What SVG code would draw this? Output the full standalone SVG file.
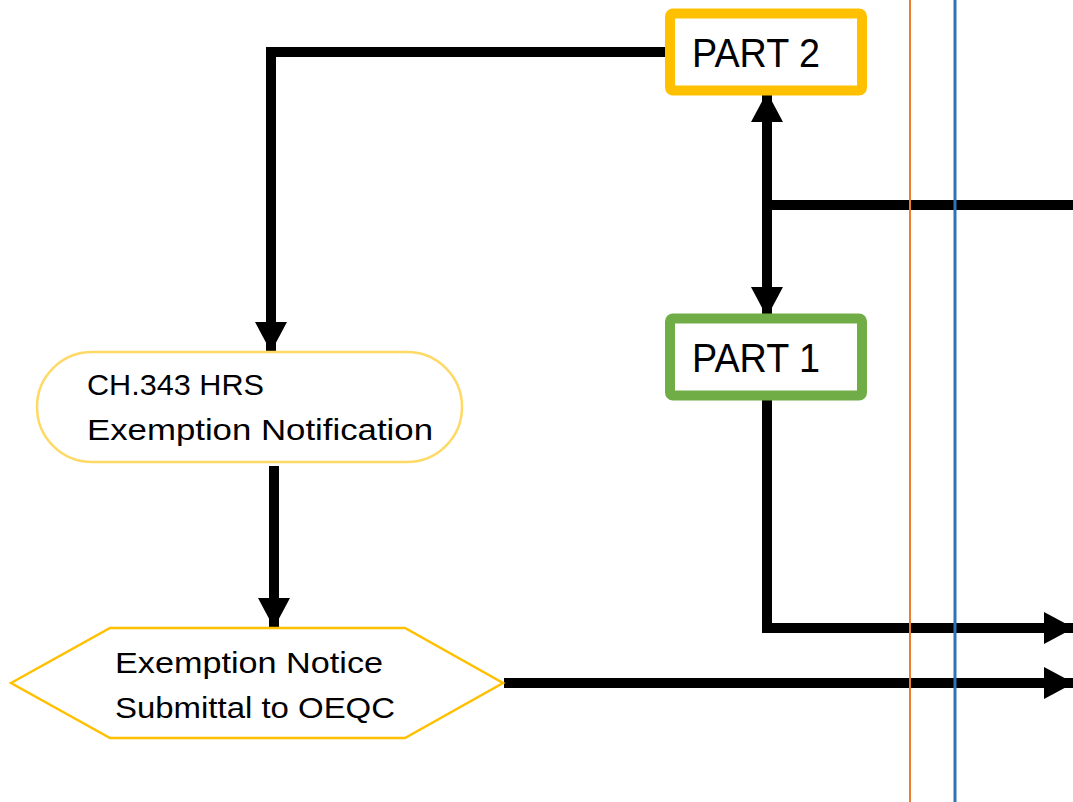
<svg xmlns="http://www.w3.org/2000/svg" width="1073" height="802" viewBox="0 0 1073 802">
<style>
.lbl{font-family:"Liberation Sans",Arial,sans-serif;fill:#000}
.big{font-size:40px}
.mid{font-size:30px}
.conn{fill:none;stroke:#000;stroke-width:10;stroke-linejoin:miter;stroke-linecap:butt}
</style>
<defs>
<marker id="ah" markerUnits="userSpaceOnUse" markerWidth="30" markerHeight="32" refX="29" refY="16" orient="auto" overflow="visible">
<path d="M0,0 L30,16 L0,32 z" fill="#000"/>
</marker>
</defs>
<rect width="1073" height="802" fill="#fff"/>
<g id="connectors">
<polyline class="conn" points="668,52 271,52 271,351" marker-end="url(#ah)"/>
<line class="conn" x1="274" y1="466" x2="274" y2="627" marker-end="url(#ah)"/>
<line class="conn" x1="504" y1="683" x2="1073" y2="683" marker-end="url(#ah)"/>
<polyline class="conn" points="767,396 767,628 1073,628" marker-end="url(#ah)"/>
<line class="conn" x1="767" y1="205" x2="1073" y2="205"/>
<line class="conn" x1="767" y1="205" x2="767" y2="93" marker-end="url(#ah)"/>
<line class="conn" x1="767" y1="205" x2="767" y2="316" marker-end="url(#ah)"/>
</g>
<g id="part2">
<rect x="670" y="13.5" width="192" height="77" rx="3" fill="#fff" stroke="#FFC000" stroke-width="10"/>
<text class="lbl big" x="692" y="67" textLength="128" lengthAdjust="spacingAndGlyphs">PART 2</text>
</g>
<g id="part1">
<rect x="670" y="318.5" width="192" height="77" rx="3" fill="#fff" stroke="#70AD47" stroke-width="10"/>
<text class="lbl big" x="692" y="372" textLength="128" lengthAdjust="spacingAndGlyphs">PART 1</text>
</g>
<g id="ch343">
<rect x="37" y="352" width="425" height="110" rx="55" fill="#fff" stroke="#FFD966" stroke-width="2.5"/>
<text class="lbl mid" x="87" y="395" textLength="177" lengthAdjust="spacingAndGlyphs">CH.343 HRS</text>
<text class="lbl mid" x="87" y="440" textLength="346" lengthAdjust="spacingAndGlyphs">Exemption Notification</text>
</g>
<g id="notice">
<polygon points="11,683 110,628 405,628 503,683 405,738 110,738" fill="#fff" stroke="#FFC000" stroke-width="2.5"/>
<text class="lbl mid" x="115" y="673" textLength="268" lengthAdjust="spacingAndGlyphs">Exemption Notice</text>
<text class="lbl mid" x="115" y="718" textLength="280" lengthAdjust="spacingAndGlyphs">Submittal to OEQC</text>
</g>
<g id="guides">
<line x1="910" y1="0" x2="910" y2="802" stroke="#ED7D31" stroke-width="2"/>
<line x1="955" y1="0" x2="955" y2="802" stroke="#2E75B6" stroke-width="3"/>
</g>
</svg>
